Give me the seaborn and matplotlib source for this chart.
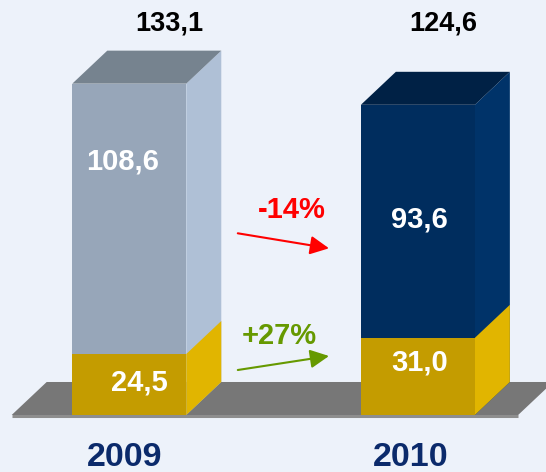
import matplotlib
matplotlib.use("Agg")
import matplotlib.pyplot as plt
from matplotlib.patches import Polygon
import seaborn as sns
import pandas as pd

# ---------------- data ----------------
years = ["2009", "2010"]
upper_values = [108.6, 93.6]
lower_values = [24.5, 31.0]
totals = [133.1, 124.6]
upper_labels = ["108,6", "93,6"]
lower_labels = ["24,5", "31,0"]
total_labels = ["133,1", "124,6"]
change_labels = ["-14%", "+27%"]

# ---------------- style ----------------
BG = "#EDF2FA"
upper_front = ["#97A6B9", "#002D5E"]
upper_side = ["#AFC0D6", "#003369"]
upper_cap = ["#76838F", "#002145"]
yellow_front = "#C49C00"
yellow_side = "#E1B500"
ground_col = "#777777"
ground_edge = "#8E8E8E"
year_col = "#0B2A6B"
change_cols = ["#FF0000", "#669900"]
FONT = ["Liberation Sans", "DejaVu Sans"]

W, H = 546, 472
fig = plt.figure(figsize=(W / 100, H / 100), dpi=100, facecolor=BG)
ax = fig.add_axes([0, 0, 1, 1])
ax.set_facecolor(BG)

df = pd.DataFrame({"year": years, "total": totals, "lower": lower_values})

bar_w = 0.395
sns.barplot(data=df, x="year", y="total", hue="year", palette=upper_front,
            legend=False, width=bar_w, saturation=1, linewidth=0, ax=ax, zorder=3)
sns.barplot(data=df, x="year", y="lower", color=yellow_front,
            width=bar_w, saturation=1, linewidth=0, ax=ax, zorder=4)

XL = (-0.448, 1.444)
YL = (-22.9, 166.7)
ax.set_xlim(*XL)
ax.set_ylim(*YL)
ax.axis("off")

pxx = W / (XL[1] - XL[0])   # pixels per x unit
pxy = H / (YL[1] - YL[0])   # pixels per y unit
dx = 35 / pxx
dy = 33 / pxy


def to_data(px, py):
    return XL[0] + px / pxx, YL[1] - py / pxy


patches = ax.patches
full = patches[:2]
low = patches[2:4]

# ground plate
gx0 = full[0].get_x() - 0.21
gx1 = full[1].get_x() + full[1].get_width() + 0.15
ground = Polygon([(gx0, 0), (gx1, 0), (gx1 + dx, dy), (gx0 + dx, dy)],
                 closed=True, facecolor=ground_col, edgecolor="none", zorder=1)
ax.add_patch(ground)
ax.plot([gx0, gx1], [-0.5, -0.5], color=ground_edge, lw=2.2,
        solid_capstyle="butt", zorder=1.5)


def side(x1, y0, y1, color, z):
    ax.add_patch(Polygon([(x1, y0), (x1 + dx, y0 + dy), (x1 + dx, y1 + dy), (x1, y1)],
                         closed=True, facecolor=color, edgecolor="none", zorder=z))


def cap(x0, x1, y1, color, z):
    ax.add_patch(Polygon([(x0, y1), (x0 + dx, y1 + dy), (x1 + dx, y1 + dy), (x1, y1)],
                         closed=True, facecolor=color, edgecolor="none", zorder=z))


centers = []
for i, (pf, pl) in enumerate(zip(full, low)):
    x0 = pf.get_x()
    x1 = x0 + pf.get_width()
    top = pf.get_height()
    lo = pl.get_height()
    centers.append(x0 + pf.get_width() / 2)
    side(x1, 0, top, upper_side[i], 2.5)
    cap(x0, x1, top, upper_cap[i], 2.5)
    side(x1, 0, lo, yellow_side, 2.8)


def cap_px(size):
    return 0.716 * size * 100 / 72


def label(x, ycenter, text, size, color):
    # vertical centering on digit cap height
    yb = ycenter - cap_px(size) / 2 / pxy
    ax.text(x, yb, text, ha="center", va="baseline", fontsize=size,
            fontweight="bold", color=color, family=FONT, zorder=6)


# totals row
total_y = to_data(0, 21)[1]
total_off = [23, 8]
for i in range(2):
    label(centers[i] + dx / 2 + total_off[i] / pxx, total_y, total_labels[i], 19.5, "black")

# inside labels
upper_frac = [0.72, 0.52]
upper_off = [-6.6, 2]
lower_frac = [0.576, 0.713]
lower_off = [9.7, 2]
for i in range(2):
    yu = lower_values[i] + upper_frac[i] * upper_values[i]
    label(centers[i] + upper_off[i] / pxx, yu, upper_labels[i], 21, "white")
    yl = lower_frac[i] * lower_values[i]
    label(centers[i] + lower_off[i] / pxx, yl, lower_labels[i], 21, "white")

# year labels
year_y = to_data(0, 454)[1]
year_off = [-4.3, -7.6]
for i in range(2):
    label(centers[i] + year_off[i] / pxx, year_y, years[i], 24.5, year_col)

# change labels + arrows
chg_pos = [(291.9, 208), (279.4, 334)]
arrows = [((237.8, 233.3), (329, 248.3)), ((237.8, 370), (329, 356))]
for i in range(2):
    x, y = to_data(*chg_pos[i])
    label(x, y, change_labels[i], 21, change_cols[i])
    (ax_, ay_), (bx_, by_) = arrows[i]
    ax.annotate("", xy=to_data(bx_, by_), xytext=to_data(ax_, ay_),
                arrowprops=dict(arrowstyle="-|>,head_length=0.95,head_width=0.47",
                                mutation_scale=12, lw=1.5, color=change_cols[i],
                                shrinkA=0, shrinkB=0), zorder=6)

fig.savefig("out.png", dpi=100, facecolor=BG)
